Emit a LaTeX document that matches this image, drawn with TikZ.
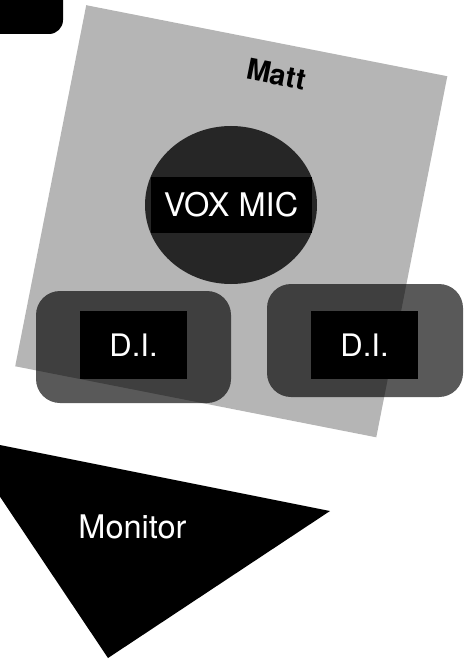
\documentclass[tikz,border=0pt]{standalone}
\usepackage{fontspec}
\setmainfont{TeX Gyre Heros}
\usetikzlibrary{shapes.geometric}
\definecolor{stagegray}{RGB}{181,181,181}
\definecolor{micgray}{RGB}{38,38,38}
\tikzset{>=stealth,
  tag/.style={fill=black, text=white, inner sep=0pt, font=\fontsize{31}{37}\selectfont},
  pad/.style={fill=black, fill opacity=0.65, rounded corners=24pt, inner sep=0pt}}

\begin{document}
\begin{tikzpicture}[x=1pt, y=-1pt]
    \useasboundingbox (0,0) rectangle (467,660);
    \clip (0,0) rectangle (467,660);
    \fill[rounded corners=14pt] (-30,-30) rectangle (63,34);
    \node[fill=stagegray, rotate=-11.13, minimum size=368pt, inner sep=0pt] (stage) at (231.25,221.25) {};
    \node[rotate=-11.13, font=\fontsize{29}{34}\selectfont\bfseries] (matt) at (276.5,74.5) {Matt};
    \node[ellipse, fill=micgray, minimum width=172pt, minimum height=158pt, inner sep=0pt] (mic) at (231,205) {};
    \node[tag, minimum width=161pt, minimum height=55pt, font=\fontsize{32.5}{38}\selectfont] (vox) at (mic) {VOX MIC};
    \node[pad, minimum width=195pt, minimum height=112pt] (padleft) at (133.5,347) {};
    \node[pad, minimum width=196pt, minimum height=113pt] (padright) at (365,340.5) {};
    \node[tag, minimum width=107pt, minimum height=68pt] (dileft) at (133.5,345) {D.I.};
    \node[tag, minimum width=107pt, minimum height=68pt] (diright) at (364.5,345) {D.I.};
    \coordinate (A) at (-40,437);
    \coordinate (B) at (330,511);
    \coordinate (C) at (108,658);
    \fill (A) -- (B) -- (C) -- cycle;
    \node[text=white, font=\fontsize{32.5}{38}\selectfont] (monitor) at (132.5,527) {Monitor};
\end{tikzpicture}
\end{document}
